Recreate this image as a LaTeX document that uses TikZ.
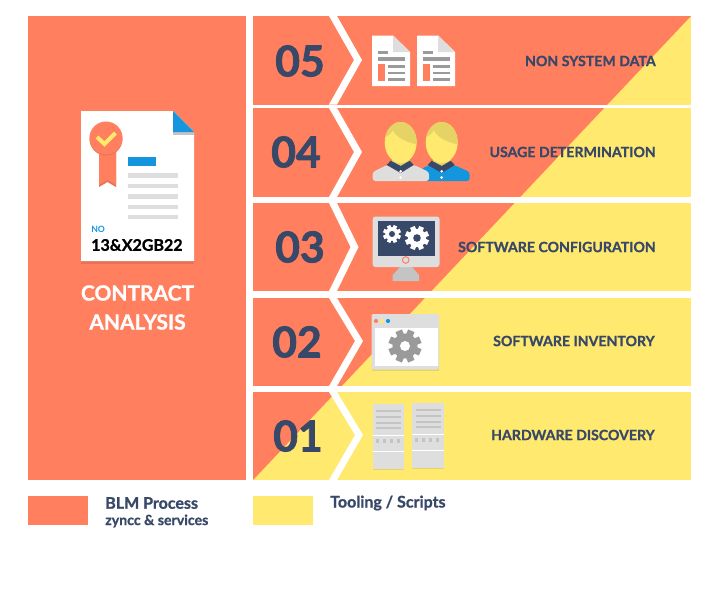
\documentclass[tikz,border=0pt]{standalone}
\usepackage{fontspec}
\setmainfont{Lato}[BoldFont={Lato Bold}]
\newfontfamily\heavyfont[FakeBold=1.8]{Lato Bold}
\newfontfamily\labelfont[FakeBold=1.0]{Lato Bold}
\definecolor{coral}{HTML}{FF7F5E}
\definecolor{sun}{HTML}{FFE96E}
\definecolor{navy}{HTML}{384868}
\definecolor{pale}{HTML}{DEDEDE}
\definecolor{mid}{HTML}{9A9A9A}
\definecolor{sky}{HTML}{1496DF}
\definecolor{hair}{HTML}{E5D366}
\definecolor{darkcoral}{HTML}{E87257}
\definecolor{silver}{HTML}{C4C4C4}
\newcommand{\chevron}[4]{\fill[white] (329,#1) -- (#4-8,#3) -- (329,#2) -- (337,#2) -- (#4,#3) -- (337,#1) -- cycle;}
\newcommand{\sheet}[1]{\begin{scope}[shift={(#1,0)}]
 \fill[white] (372,35.5) -- (393,35.5) -- (410,52) -- (410,86) -- (372,86) -- cycle;
 \fill[pale] (393,35.5) -- (410,52) -- (393,52) -- cycle;
 \fill[mid] (378,50.5) rectangle (388,53.5);
 \fill[mid] (378,57) rectangle (405,60.5);
 \fill[coral] (378,64) rectangle (385,81);
 \fill[mid] (388,65) rectangle (405,67.5);
 \fill[mid] (388,71.5) rectangle (405,74);
 \fill[mid] (388,78) rectangle (405,80.5);
\end{scope}}
\newcommand{\person}[1]{\begin{scope}[shift={(#1,0)}]
 \fill[hair] (-9,155) rectangle (9,167);
 \fill[sun] (0,142.5) ellipse [x radius=16,y radius=20.5];
 \begin{scope}
  \clip (0,142.5) ellipse [x radius=16,y radius=20.5];
  \fill[hair] (-18,138) -- (-16,137) .. controls (-12,136) and (-9.5,133) .. (-8,130) .. controls (-5,137) and (6,143) .. (18,144.5) -- (18,118) -- (-18,118) -- cycle;
 \end{scope}
 \fill[navy] (-14,165) -- (-10,160.7) -- (0,166) -- (9,160.7) -- (13,165) -- (0,173) -- cycle;
 \fill[white] (0,171.3) circle (1.5) (0,177.5) circle (1.5);
\end{scope}}
\newcommand{\cog}[6]{% x y radius hole colour holecolour
 \fill[#5] (#1,#2) circle ({#3*0.76});
 \foreach \a in {0,45,...,315}
  \draw[#5,line width={#3*0.42*0.75pt}] (#1,#2) -- ++(\a+22.5:#3);
 \fill[#6] (#1,#2) circle (#4);}
\newcommand{\rack}[2]{\begin{scope}[shift={(#1,#2)}]
 \fill[hair] (372.5,404) rectangle (404,470);
 \fill[pale] (372.5,404) rectangle (404,468.5);
 \foreach \yy in {411,417,423,428}
  \fill[silver] (376,\yy-1.3) rectangle (401,\yy+1.3);
 \fill[white] (372.5,434.5) rectangle (404,435.5);
 \fill[white] (372.5,451) rectangle (404,452);
 \foreach \xx in {377,384,391,398}
  \fill[silver] (\xx-1.5,439) rectangle (\xx+1.5,443);
\end{scope}}
\tikzset{
 steplabel/.style={text=navy,anchor=east,inner sep=0pt,font=\labelfont\fontsize{10.6}{13}\selectfont},
 stepnum/.style={text=navy,inner sep=0pt,font=\heavyfont\fontsize{32}{34}\selectfont},
 legendtext/.style={text=navy,anchor=west,inner sep=0pt},
 headtext/.style={text=white,inner sep=0pt,font=\labelfont\fontsize{15.7}{18}\selectfont},
}
\begin{document}
\begin{tikzpicture}[x=0.75pt,y=-0.75pt]
\useasboundingbox (0,0) rectangle (720,589);
\fill[white] (0,0) rectangle (720,589);
% left panel
\fill[coral] (28,16) rectangle (246,480);
% rows
\fill[sun] (253,16) rectangle (691,480);
\fill[coral] (253,16) -- (691,16) -- (253,480) -- cycle;
\fill[white] (253,104.5) rectangle (691,108);
\fill[white] (253,197) rectangle (691,203);
\fill[white] (253,291) rectangle (691,298);
\fill[white] (253,386) rectangle (691,392);
\chevron{16}{104.5}{60}{362}
\chevron{108}{197}{152}{362}
\chevron{203}{291}{247}{358.5}
\chevron{298}{386}{341}{363}
\chevron{392}{480}{435}{363}
% contract sheet
\fill[darkcoral] (81,200) rectangle (194,264);
\fill[white] (81,111) -- (173,111) -- (194,132) -- (194,261) -- (81,261) -- cycle;
\fill[silver] (173,132) rectangle (194,135);
\fill[sky] (173,111) -- (194,132) -- (173,132) -- cycle;
\fill[darkcoral] (99,150) -- (116,150) -- (116,187) -- (107.5,182) -- (99,187) -- cycle;
\fill[coral] (99,150) -- (116,150) -- (116,185) -- (107.5,180) -- (99,185) -- cycle;
\fill[darkcoral] (106,139) circle (16.5);
\fill[coral] (106,138) circle (16.5);
\draw[sun,line width=3pt] (97,137) -- (104.5,144) -- (115.5,133);
\fill[sky] (127.5,157) rectangle (156,166);
\foreach \yy/\hh in {173/4.5,184/4,194/4.5,205/3.5,215/4}
 \fill[pale] (128,\yy) rectangle (177.5,\yy+\hh);
\node[text=sky,anchor=west,inner sep=0pt,font=\bfseries\fontsize{6.5}{8}\selectfont] (no) at (91,229) {NO};
\node[text=black,anchor=west,inner sep=0pt,font=\labelfont\fontsize{12}{15}\selectfont] (serial) at (91,245) {13\&X2GB22};
\node[headtext] (h1) at (137.5,293) {CONTRACT};
\node[headtext] (h2) at (137.5,322) {ANALYSIS};
% row 5 icon
\sheet{0}
\sheet{45}
% row 4 icon
\fill[sky,rounded corners=2pt] (422,181) -- (422,168) -- (431,165) -- (454,165) -- (469.7,172) -- (469.7,181) -- cycle;
\fill[pale,rounded corners=2pt] (372.7,181) -- (372.7,172) -- (387,165) -- (414,165) -- (429,172) -- (429,181) -- cycle;
\person{400.7}
\person{441.7}
% row 3 icon
\fill[silver] (400,267) -- (412,267) -- (419,275) -- (419,281) -- (392.7,281) -- (392.7,275) -- cycle;
\fill[pale,rounded corners=2pt] (372.7,216.5) rectangle (439.5,267);
\fill[navy] (377.5,221) rectangle (435,256);
\draw[coral,line width=0.75pt] (405.7,260) circle (3.3);
\cog{392}{234}{9}{3}{white}{navy}
\cog{417}{238}{12}{3.8}{white}{navy}
% row 2 icon
\fill[hair] (371.5,316) rectangle (439,371);
\fill[pale,rounded corners=1.5pt] (371.5,314) rectangle (439,369.5);
\fill[white] (375,328) rectangle (438,366);
\fill[coral] (376,321) circle (2.1);
\fill[sun] (382,321) circle (2.1);
\fill[sky] (388,321) circle (2.1);
\cog{405}{346}{16.5}{5}{mid}{white}
% row 1 icon
\rack{0}{0}
\rack{39.5}{-1}
% labels
\node[steplabel] (l5) at (656,61) {NON SYSTEM DATA};
\node[steplabel] (l4) at (656,152) {USAGE DETERMINATION};
\node[steplabel] (l3) at (656,247) {SOFTWARE CONFIGURATION};
\node[steplabel] (l2) at (655,341) {SOFTWARE INVENTORY};
\node[steplabel] (l1) at (655,435) {HARDWARE DISCOVERY};
\node[stepnum] (n5) at (300,61) {05};
\node[stepnum] (n4) at (296,152) {04};
\node[stepnum] (n3) at (300,247) {03};
\node[stepnum] (n2) at (297,342) {02};
\node[stepnum] (n1) at (298,436) {01};
% legend
\fill[coral] (28,496) rectangle (88,525);
\fill[sun] (253,496) rectangle (313,525);
\node[legendtext,font=\labelfont\fontsize{12}{14}\selectfont] (lg1) at (105,503) {BLM Process};
\node[legendtext,font=\labelfont\fontsize{10.6}{12}\selectfont] (lg2) at (105,521) {zyncc \& services};
\node[legendtext,font=\labelfont\fontsize{12}{14}\selectfont] (lg3) at (330,503) {Tooling / Scripts};
\end{tikzpicture}
\end{document}
